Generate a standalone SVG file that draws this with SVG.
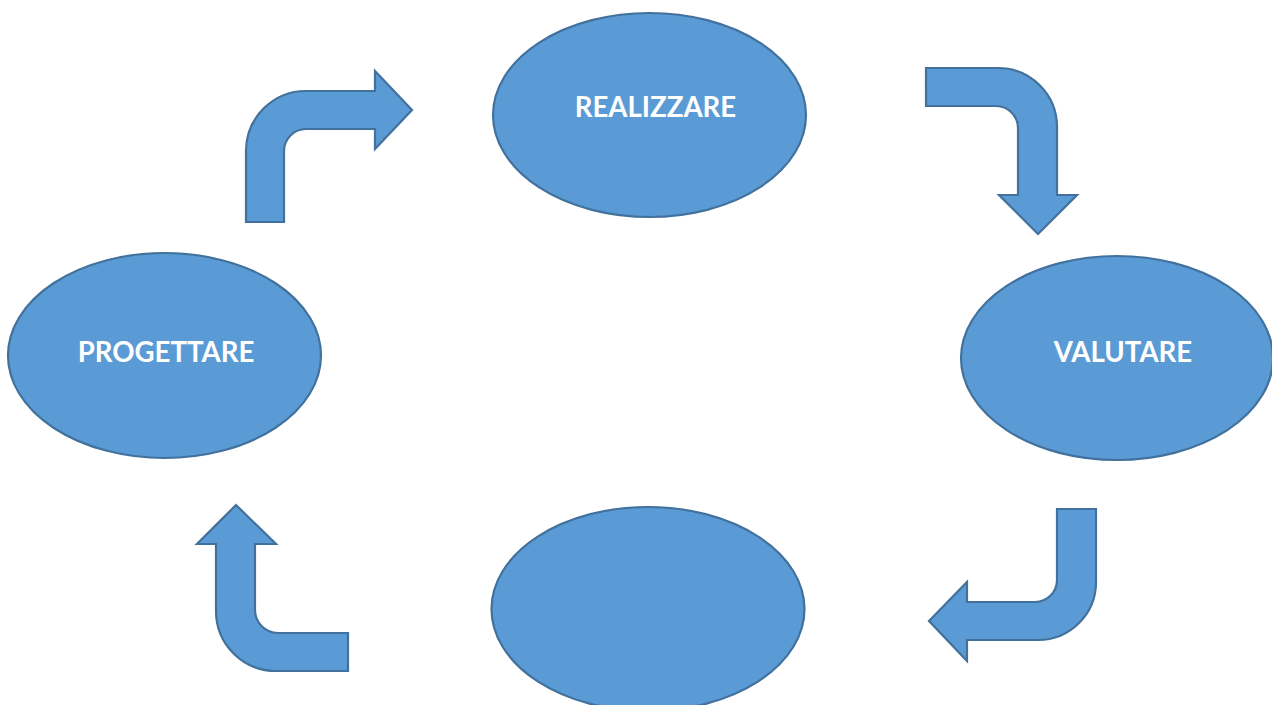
<svg xmlns="http://www.w3.org/2000/svg" width="1272" height="705" viewBox="0 0 1272 705">
<style>
.shape{fill:#5B9BD5;stroke:#41719C;stroke-width:2.2}
.lbl{font-family:Lato,"Liberation Sans",sans-serif;font-weight:bold;font-size:27.6px;fill:#FFFFFF;text-anchor:middle}
</style>
<rect width="1272" height="705" fill="#FFFFFF"/>
<g id="connectors">
<path class="shape" d="M246,222 L246,151 A60,60 0 0 1 306,91 L375,91 L375,71 L412,110 L375,149 L375,129 L306,129 A22,22 0 0 0 284,151 L284,222 Z"/>
<path class="shape" d="M926,68 L998,68 A59,59 0 0 1 1057,127 L1057,195 L1077,195 L1038,234 L999,195 L1018,195 L1018,128 A22,22 0 0 0 996,106 L926,106 Z"/>
<path class="shape" d="M1096,509 L1096,582 A58,58 0 0 1 1038,640 L967,640 L967,661 L929,621 L967,582 L967,602 L1035,602 A22,22 0 0 0 1057,580 L1057,509 Z"/>
<path class="shape" d="M348,633 L278,633 A23,23 0 0 1 255,610 L255,544 L276,544 L236,505 L197,544 L216,544 L216,611 A60,60 0 0 0 276,671 L348,671 Z"/>
</g>
<g id="node-realizzare">
<ellipse class="shape" cx="649.5" cy="115" rx="156.5" ry="102"/>
<text class="lbl" x="655.5" y="116.5">REALIZZARE</text>
</g>
<g id="node-valutare">
<ellipse class="shape" cx="1117" cy="358" rx="156" ry="102"/>
<text class="lbl" x="1123" y="361.5">VALUTARE</text>
</g>
<g id="node-bottom">
<ellipse class="shape" cx="648" cy="609" rx="156.5" ry="102"/>
</g>
<g id="node-progettare">
<ellipse class="shape" cx="164.5" cy="355.5" rx="156.5" ry="102.5"/>
<text class="lbl" x="166" y="361.5">PROGETTARE</text>
</g>
</svg>
